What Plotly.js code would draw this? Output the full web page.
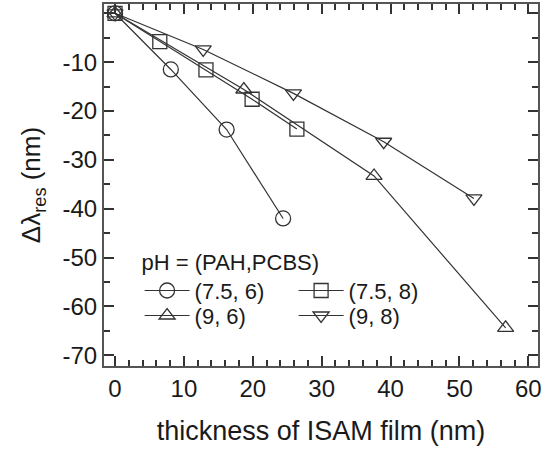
<!DOCTYPE html>
<html>
<head>
<meta charset="utf-8">
<script src="https://cdn.plot.ly/plotly-3.0.1.min.js"></script>
<style>html,body{margin:0;padding:0;background:#fff;}#chart{width:545px;height:455px;}</style>
</head>
<body>
<div id="chart"></div>
<script>
// Data
const names = ['(7.5, 6)', '(7.5, 8)', '(9, 6)', '(9, 8)'];
const x_75_6 = [0, 8.1, 16.2, 24.4];
const y_75_6 = [0, -11.5, -23.8, -42.0];
const x_75_8 = [0, 6.5, 13.2, 19.9, 26.4];
const y_75_8 = [0, -5.8, -11.6, -17.6, -23.7];
const x_9_6 = [0, 18.7, 37.6, 56.7];
const y_9_6 = [0, -15.6, -33.3, -64.4];
const x_9_8 = [0, 12.8, 25.9, 39.0, 52.1];
const y_9_8 = [0, -7.4, -16.4, -26.3, -37.9];
const symbols = ['circle-open', 'square-open', 'triangle-up-open', 'triangle-down-open'];
const legendTitle = 'pH = (PAH,PCBS)';
const xTickVals = [0, 10, 20, 30, 40, 50, 60];
const xTickText = ['0', '10', '20', '30', '40', '50', '60'];
const yTickVals = [0, -10, -20, -30, -40, -50, -60, -70];
const yTickText = ['0', '-10', '-20', '-30', '-40', '-50', '-60', '-70'];

const xs = [x_75_6, x_75_8, x_9_6, x_9_8];
const ys = [y_75_6, y_75_8, y_9_6, y_9_8];
const legendOf = ['legend', 'legend', 'legend2', 'legend2'];
const sizes = [15, 14, 14, 14];
const col = '#333';

const traces = names.map((n, i) => ({
  x: xs[i], y: ys[i], name: n, type: 'scatter', mode: 'lines+markers',
  legend: legendOf[i],
  line: {color: col, width: 1.2},
  marker: {symbol: symbols[i], size: sizes[i], color: col, line: {color: col, width: 1.3}}
}));

const fontFam = 'Liberation Sans, Arial, sans-serif';
const txt = '#1a1a1a';
const axisCommon = {
  showline: true, linecolor: '#555', linewidth: 2,
  ticks: 'inside', ticklen: 10, tickwidth: 2, tickcolor: '#333',
  mirror: 'ticks', showgrid: false, zeroline: false,
  tickmode: 'array',
  tickfont: {family: fontFam, size: 24, color: txt},
};
const legendCommon = {
  orientation: 'h', xanchor: 'left', yanchor: 'top',
  bgcolor: 'rgba(0,0,0,0)', entrywidth: 94, itemwidth: 45,
  font: {family: fontFam, size: 22, color: txt}
};

const layout = {
  width: 545, height: 455,
  margin: {l: 104, r: 7, t: 4, b: 89},
  paper_bgcolor: '#fff', plot_bgcolor: '#fff',
  font: {family: fontFam, color: txt},
  showlegend: true,
  legend: Object.assign({}, legendCommon, {
    x: 0.082, y: 0.345,
    title: {text: legendTitle, side: 'top', font: {family: fontFam, size: 22, color: txt}}
  }),
  legend2: Object.assign({}, legendCommon, {x: 0.082, y: 0.197}),
  xaxis: Object.assign({}, axisCommon, {
    range: [-1.6, 61.4], tickvals: xTickVals, ticktext: xTickText,
    minor: {dtick: 2, tick0: 0, ticklen: 6, tickwidth: 2, tickcolor: '#333', ticks: 'inside'},
    title: {text: 'thickness of ISAM film (nm)', font: {family: fontFam, size: 27, color: txt}, standoff: 20}
  }),
  yaxis: Object.assign({}, axisCommon, {
    range: [-72.2, 1.9], tickvals: yTickVals, ticktext: yTickText,
    minor: {dtick: 5, tick0: 0, ticklen: 6, tickwidth: 2, tickcolor: '#333', ticks: 'inside'},
    title: {text: 'Δλ<sub>res</sub> (nm)', font: {family: fontFam, size: 26, color: txt}, standoff: 14}
  })
};

Plotly.newPlot('chart', traces, layout, {displayModeBar: false, staticPlot: true});
</script>
</body>
</html>
